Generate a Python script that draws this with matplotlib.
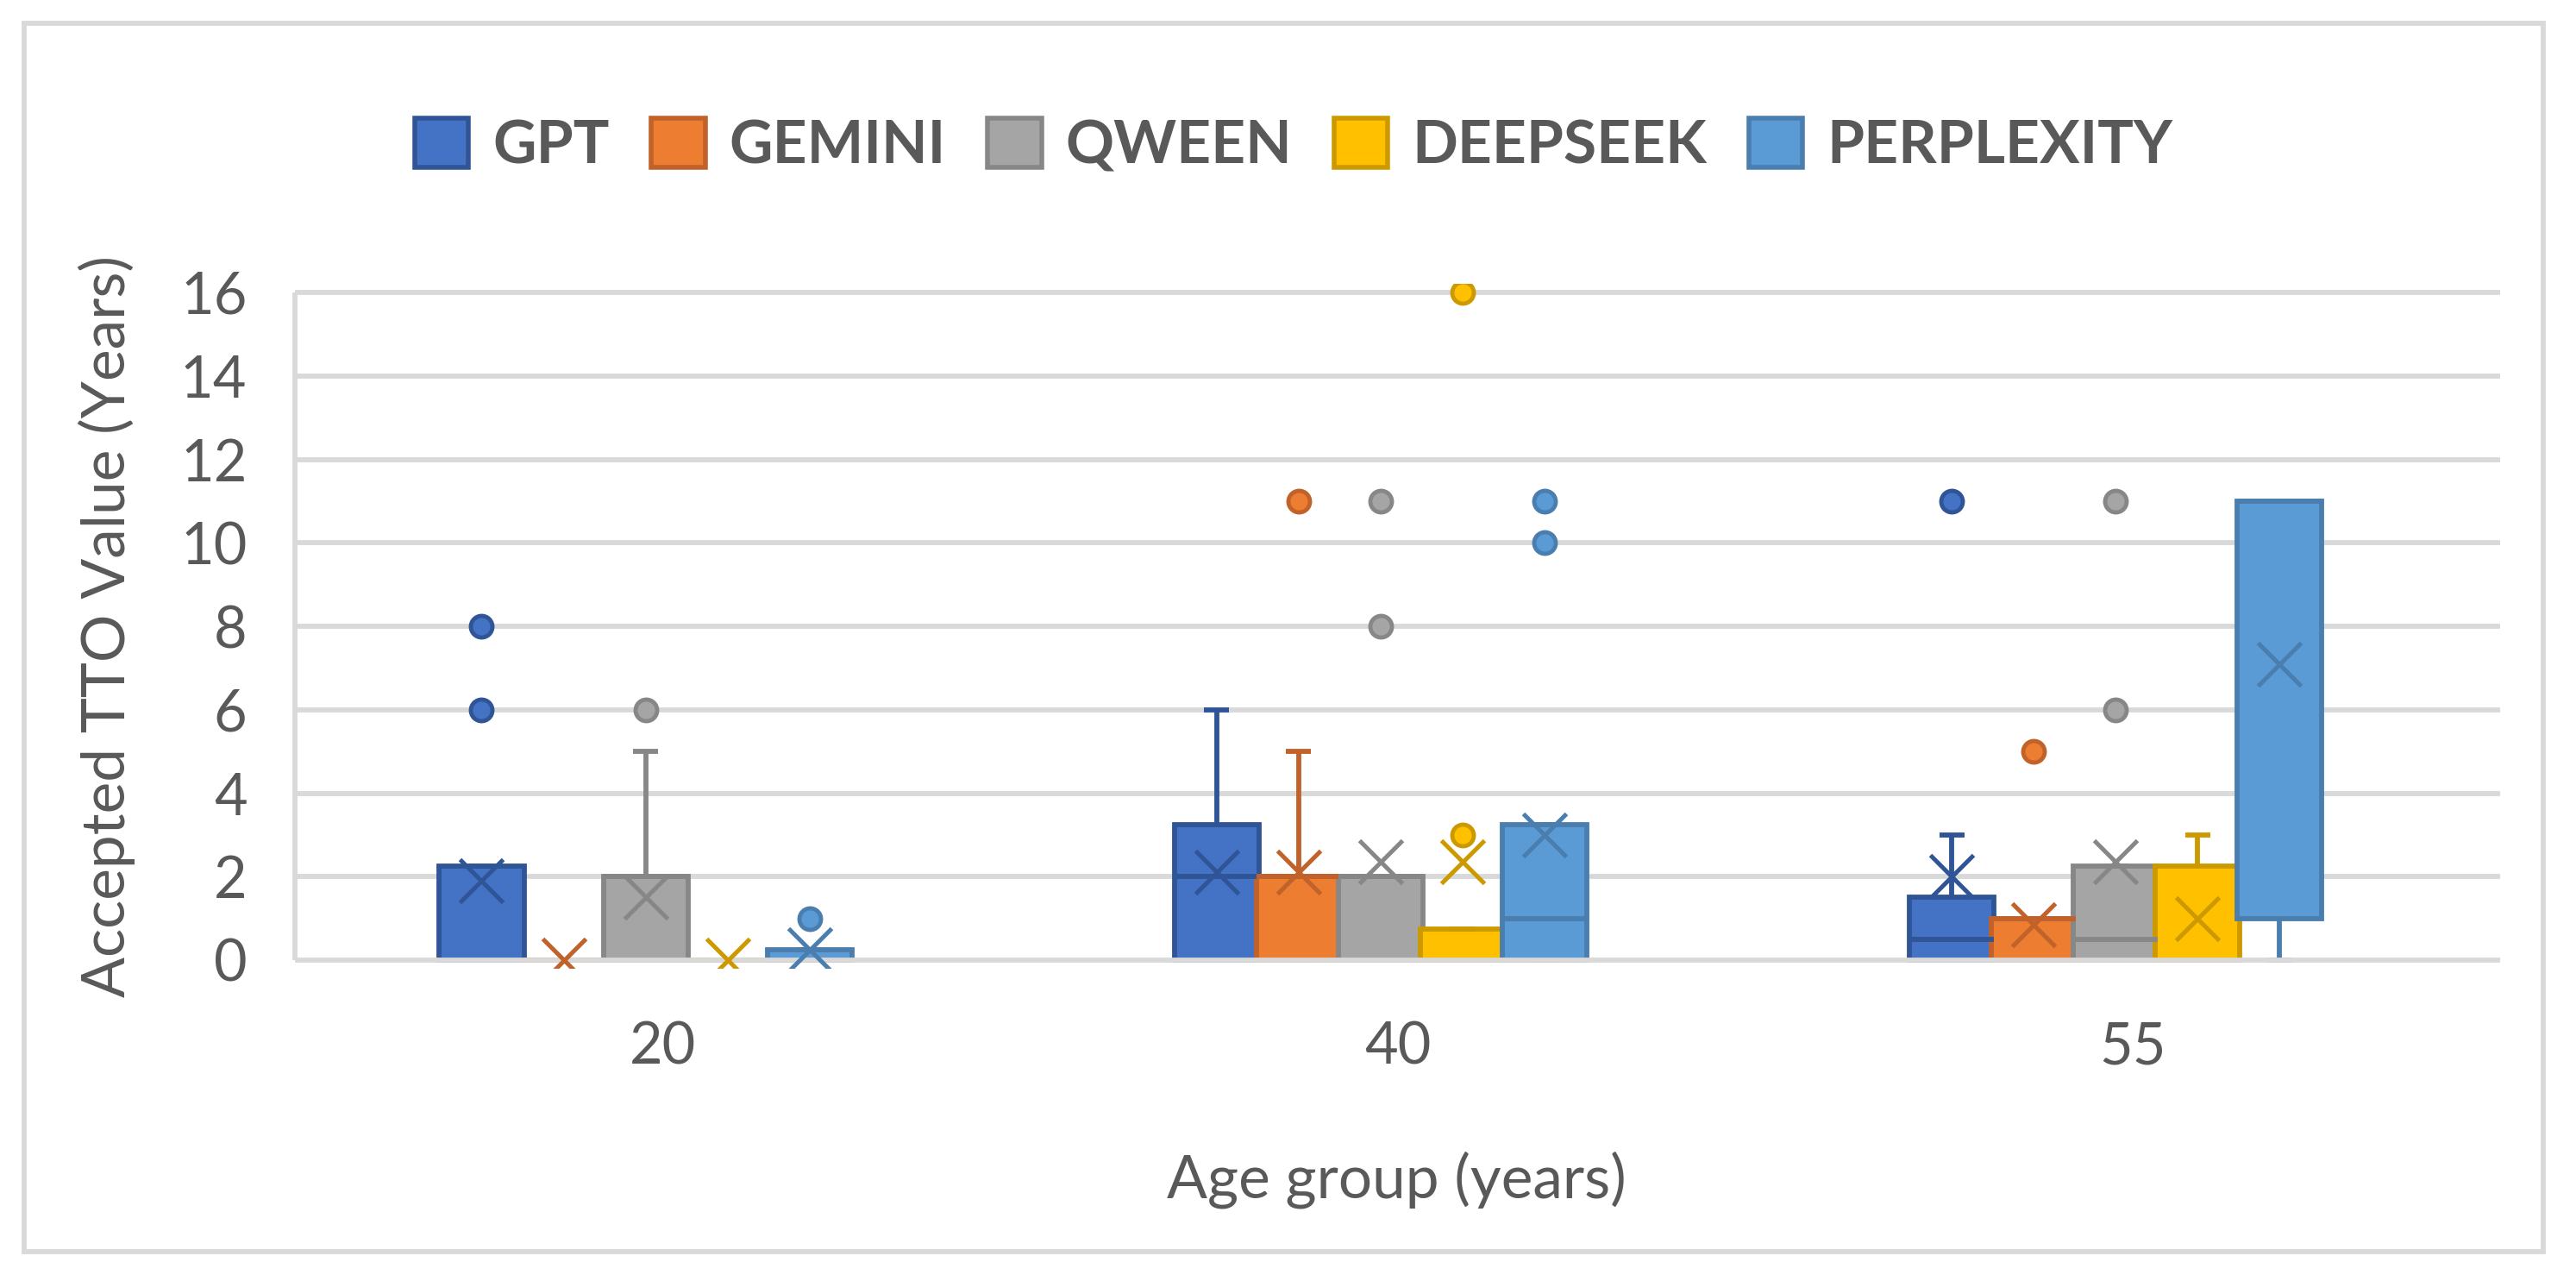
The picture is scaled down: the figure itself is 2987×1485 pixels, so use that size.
import matplotlib
matplotlib.use("Agg")
import matplotlib.pyplot as plt
from matplotlib.patches import Patch, Rectangle

plt.rcParams['font.family'] = ['Lato', 'DejaVu Sans']

# ---------------- data ----------------
age_groups = ["20", "40", "55"]
series_names = ["GPT", "GEMINI", "QWEEN", "DEEPSEEK", "PERPLEXITY"]

gpt_q1 = [0, 0, 0]
gpt_med = [0, 2, 0.5]
gpt_q3 = [2.25, 3.25, 1.5]
gpt_lo = [0, 0, 0]
gpt_hi = [2.25, 6, 3]
gpt_mean = [1.9, 2.1, 2.0]
gpt_out = [[6, 8], [], [11]]

gemini_q1 = [0, 0, 0]
gemini_med = [0, 2, 1]
gemini_q3 = [0, 2, 1]
gemini_lo = [0, 0, 0]
gemini_hi = [0, 5, 1]
gemini_mean = [0, 2.1, 0.85]
gemini_out = [[], [11], [5]]

qween_q1 = [0, 0, 0]
qween_med = [2, 2, 0.5]
qween_q3 = [2, 2, 2.25]
qween_lo = [0, 0, 0]
qween_hi = [5, 2, 2.25]
qween_mean = [1.5, 2.35, 2.35]
qween_out = [[6], [8, 11], [6, 11]]

deepseek_q1 = [0, 0, 0]
deepseek_med = [0, 0, 0]
deepseek_q3 = [0, 0.75, 2.25]
deepseek_lo = [0, 0, 0]
deepseek_hi = [0, 0.75, 3]
deepseek_mean = [0, 2.35, 1.0]
deepseek_out = [[], [3, 16], []]

perplexity_q1 = [0, 0, 1]
perplexity_med = [0, 1, 11]
perplexity_q3 = [0.25, 3.25, 11]
perplexity_lo = [0, 0, 0]
perplexity_hi = [0.25, 3.25, 11]
perplexity_mean = [0.25, 3.0, 7.1]
perplexity_out = [[1], [10, 11], []]

y_ticks = [0, 2, 4, 6, 8, 10, 12, 14, 16]

# ---------------- styling ----------------
fills = ["#4472C4", "#ED7D31", "#A5A5A5", "#FFC000", "#5B9BD5"]
edges = ["#2F5597", "#C0622A", "#878787", "#CC9A00", "#4A7EAF"]
text_color = "#595959"
grid_color = "#D9D9D9"

all_stats = [
    (gpt_q1, gpt_med, gpt_q3, gpt_lo, gpt_hi, gpt_mean, gpt_out),
    (gemini_q1, gemini_med, gemini_q3, gemini_lo, gemini_hi, gemini_mean, gemini_out),
    (qween_q1, qween_med, qween_q3, qween_lo, qween_hi, qween_mean, qween_out),
    (deepseek_q1, deepseek_med, deepseek_q3, deepseek_lo, deepseek_hi, deepseek_mean, deepseek_out),
    (perplexity_q1, perplexity_med, perplexity_q3, perplexity_lo, perplexity_hi, perplexity_mean, perplexity_out),
]

W, H = 2987, 1485
fig = plt.figure(figsize=(W / 100, H / 100), dpi=100)

# axes placement (pixels): x 342..2899 ; y: 16 -> 339, 0 -> 1113
ymin, ymax = -0.19, 16.2
ppu = (1113 - 339) / 16.0
bot_px = 1113 + (0 - ymin) * ppu
top_px = 339 - (ymax - 16) * ppu
ax = fig.add_axes([342 / W, 1 - bot_px / H, (2899 - 342) / W, (bot_px - top_px) / H])
ax.set_xlim(-0.5, 2.5)
ax.set_ylim(ymin, ymax)

spacing = 0.1115
shift = -0.023
box_w = 0.115
lw = 4.2

for j, (q1, med, q3, lo, hi, mean, out) in enumerate(all_stats):
    stats = []
    positions = []
    for i in range(len(age_groups)):
        stats.append(dict(q1=q1[i], med=med[i], q3=q3[i], whislo=lo[i], whishi=hi[i],
                          mean=mean[i], fliers=out[i], label=age_groups[i]))
        positions.append(i + (j - 2) * spacing + shift)
    ax.bxp(stats, positions=positions, widths=box_w, capwidths=0.034,
           patch_artist=True, showmeans=True, meanline=False, showfliers=True,
           manage_ticks=False, zorder=2,
           boxprops=dict(facecolor=fills[j], edgecolor=edges[j], linewidth=lw, joinstyle='miter'),
           whiskerprops=dict(color=edges[j], linewidth=lw, solid_capstyle='butt'),
           capprops=dict(color=edges[j], linewidth=lw, solid_capstyle='butt'),
           medianprops=dict(color=edges[j], linewidth=lw, solid_capstyle='butt'),
           meanprops=dict(marker='x', markeredgecolor=edges[j], markersize=36,
                          markeredgewidth=3.6, zorder=4),
           flierprops=dict(marker='o', markerfacecolor=fills[j], markeredgecolor=edges[j],
                           markersize=18, markeredgewidth=3.5, zorder=4))

# gridlines
for yv in y_ticks:
    ax.axhline(yv, color=grid_color, lw=4.2, zorder=3 if yv == 0 else 0.5)
ax.plot([-0.5, -0.5], [0, 16], color=grid_color, lw=4.2, clip_on=False, zorder=0.5,
        solid_capstyle='butt')

for s in ax.spines.values():
    s.set_visible(False)

ax.set_yticks(y_ticks)
ax.set_yticklabels([str(v) for v in y_ticks])
ax.set_xticks(range(len(age_groups)))
ax.set_xticklabels(age_groups)
ax.tick_params(axis='y', length=0, pad=40, labelsize=48, labelcolor=text_color)
ax.tick_params(axis='x', length=0, pad=44, labelsize=48, labelcolor=text_color)

fig.text(124 / W, 1 - 726 / H, "Accepted TTO Value (Years)", rotation=90,
         ha='center', va='center', fontsize=50, color=text_color)
fig.text(1619 / W, 1 - 1368 / H, "Age group (years)", ha='center', va='center',
         fontsize=50, color=text_color)

handles = [Patch(facecolor=fills[j], edgecolor=edges[j], linewidth=4) for j in range(5)]
fig.legend(handles, series_names, loc='center', bbox_to_anchor=(1500 / W, 1 - 169 / H),
           ncol=5, frameon=False, prop=dict(family=['Lato', 'DejaVu Sans'], weight='bold', size=50),
           labelcolor=text_color, handlelength=0.9, handleheight=0.9,
           handletextpad=0.4, columnspacing=0.7)

fig.patches.append(Rectangle((28 / W, 1 - 1451 / H), (2949 - 28) / W, (1451 - 27) / H,
                             transform=fig.transFigure, fill=False,
                             edgecolor=grid_color, lw=4.2, zorder=0))

fig.savefig("out.png", dpi=100, facecolor='white')
